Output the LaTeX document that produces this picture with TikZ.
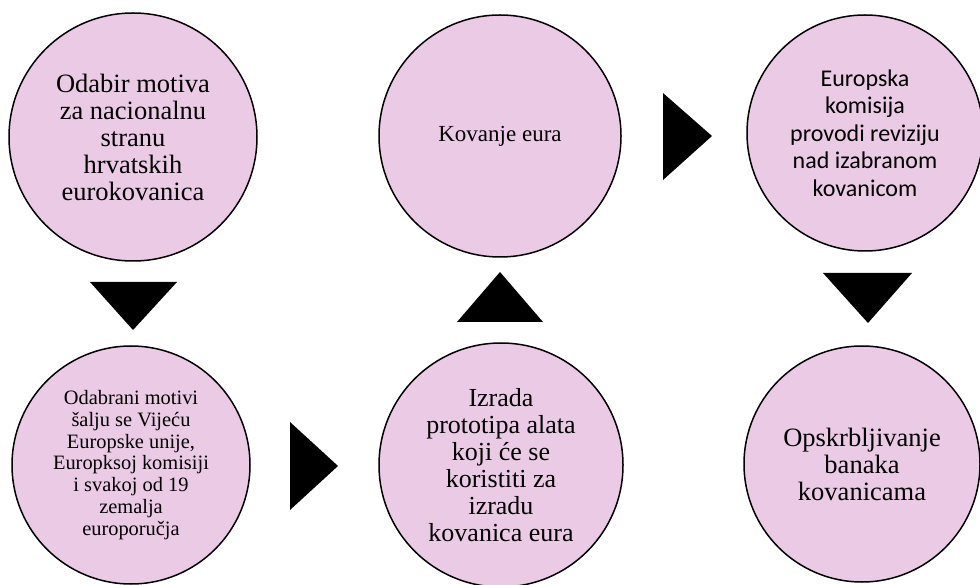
\documentclass[tikz,border=0pt]{standalone}
\usepackage{fontspec}
\setmainfont{LiberationSerif}[Extension=.ttf,UprightFont=*-Regular,BoldFont=*-Bold,ItalicFont=*-Italic,BoldItalicFont=*-BoldItalic]
\newfontfamily\calibrifont{Carlito}
\usepackage{xcolor}
\definecolor{stagepink}{RGB}{235,202,230}

\begin{document}
\begin{tikzpicture}[x=1pt,y=-1pt,
	stage/.style={circle,draw,line width=1.5pt,fill=stagepink,inner sep=0pt,align=center,minimum size=#1},
	pointer/.style={fill=black}]
	\useasboundingbox (0,0) rectangle (980,585);
	
	% top row
	\node [stage=248pt,font=\fontsize{26.5}{27}\selectfont] (odabir) at (133,137) {Odabir motiva\\za nacionalnu\\stranu\\hrvatskih\\eurokovanica};
	\node [stage=242pt,font=\fontsize{23}{27}\selectfont] (kovanje) at (500,136) {Kovanje eura};
	\node [stage=236pt,font=\calibrifont\fontsize{24}{27.5}\selectfont] (revizija) at (865,133) {Europska\\komisija\\provodi reviziju\\nad izabranom\\kovanicom};
	
	% bottom row
	\node [stage=238pt,font=\fontsize{20.4}{21.7}\selectfont] (slanje) at (131,465) {Odabrani motivi\\šalju se Vijeću\\Europske unije,\\Europksoj komisiji\\i svakoj od 19\\zemalja\\europoručja};
	\node [stage=244pt,font=\fontsize{26}{27}\selectfont] (izrada) at (501,465) {Izrada\\prototipa alata\\koji će se\\koristiti za\\izradu\\kovanica eura};
	\node [stage=236pt,font=\fontsize{26.5}{27}\selectfont] (opskrba) at (862,464) {Opskrbljivanje\\banaka\\kovanicama};
	
	% pointers
	\fill [pointer] (90,282) -- (177,282) -- (133,330) -- cycle;
	\fill [pointer] (290,422) -- (338,466) -- (290,510) -- cycle;
	\fill [pointer] (457,322) -- (500,272) -- (543,322) -- cycle;
	\fill [pointer] (663,93) -- (712,136) -- (663,180) -- cycle;
	\fill [pointer] (823,273) -- (912,273) -- (868,323) -- cycle;
	
\end{tikzpicture}
\end{document}
